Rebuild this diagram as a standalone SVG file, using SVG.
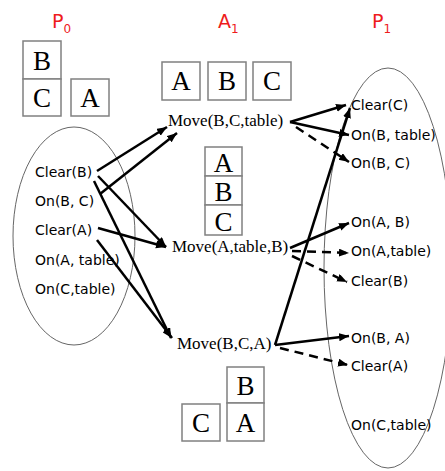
<svg xmlns="http://www.w3.org/2000/svg" width="445" height="471" viewBox="0 0 445 471">
<style>
.lbl{font-family:"DejaVu Sans",sans-serif;font-size:19px;fill:#ee1c1c}
.sub{font-size:12px}
.box{fill:#fff;stroke:#808080;stroke-width:1.5}
.blk{font-family:"Liberation Serif",serif;font-size:27px;fill:#000;text-anchor:middle}
.prop{font-family:"DejaVu Sans",sans-serif;font-size:14px;fill:#000}
.act{font-family:"Liberation Serif",serif;font-size:17px;fill:#000}
.ell{fill:none;stroke:#666;stroke-width:1}
.e{fill:none;stroke:#000;stroke-width:2.5}
.d{stroke-dasharray:9 6}
</style>
<defs>
<marker id="ah" markerUnits="userSpaceOnUse" markerWidth="11" markerHeight="9" refX="10" refY="4" orient="auto">
<path d="M0,0 L10,4 L0,8 z" fill="#000"/>
</marker>
</defs>
<rect width="445" height="471" fill="#fff"/>

<g id="labels">
<text class="lbl" x="52" y="28">P<tspan class="sub" dy="5">0</tspan></text>
<text class="lbl" x="218" y="28">A<tspan class="sub" dy="5">1</tspan></text>
<text class="lbl" x="372" y="28">P<tspan class="sub" dy="5">1</tspan></text>
</g>

<g id="state-p0">
<rect class="box" x="23" y="41" width="38" height="38"/>
<rect class="box" x="23" y="79" width="38" height="37"/>
<rect class="box" x="71" y="79" width="38" height="37"/>
<text class="blk" x="42" y="70" font-size="28">B</text>
<text class="blk" x="42" y="107" font-size="28">C</text>
<text class="blk" x="90" y="107" font-size="28">A</text>
</g>

<g id="state-a1-top">
<rect class="box" x="162" y="62" width="38" height="38"/>
<rect class="box" x="208" y="62" width="38" height="38"/>
<rect class="box" x="253" y="62" width="38" height="38"/>
<text class="blk" x="181" y="90">A</text>
<text class="blk" x="227" y="90">B</text>
<text class="blk" x="272" y="90">C</text>
</g>

<g id="state-a1-mid">
<rect class="box" x="205" y="147" width="37" height="29"/>
<rect class="box" x="205" y="176" width="37" height="29"/>
<rect class="box" x="205" y="205" width="37" height="30"/>
<text class="blk" x="223.5" y="172" font-size="26">A</text>
<text class="blk" x="223.5" y="201" font-size="26">B</text>
<text class="blk" x="223.5" y="231" font-size="26">C</text>
</g>

<g id="state-a1-bottom">
<rect class="box" x="227" y="367" width="37" height="36"/>
<rect class="box" x="227" y="403" width="37" height="38"/>
<rect class="box" x="182" y="404" width="38" height="37"/>
<text class="blk" x="245.5" y="395">B</text>
<text class="blk" x="245.5" y="432">A</text>
<text class="blk" x="201" y="432">C</text>
</g>

<g id="p0-layer">
<ellipse class="ell" cx="74" cy="236" rx="61" ry="109"/>
<text class="prop" x="35" y="177">Clear(B)</text>
<text class="prop" x="35" y="206">On(B, C)</text>
<text class="prop" x="35" y="235">Clear(A)</text>
<text class="prop" x="35" y="265">On(A, table)</text>
<text class="prop" x="35" y="294">On(C,table)</text>
</g>

<g id="p1-layer">
<ellipse class="ell" cx="388" cy="268" rx="64" ry="200"/>
<text class="prop" x="351" y="110">Clear(C)</text>
<text class="prop" x="351" y="140">On(B, table)</text>
<text class="prop" x="351" y="168">On(B, C)</text>
<text class="prop" x="351" y="227">On(A, B)</text>
<text class="prop" x="351" y="256">On(A,table)</text>
<text class="prop" x="351" y="286">Clear(B)</text>
<text class="prop" x="351" y="343">On(B, A)</text>
<text class="prop" x="351" y="371">Clear(A)</text>
<text class="prop" x="351" y="430">On(C,table)</text>
</g>

<g id="action-move-bc-table"><text class="act" x="168" y="126">Move(B,C,table)</text></g>
<g id="action-move-a-table-b"><text class="act" x="172" y="252">Move(A,table,B)</text></g>
<g id="action-move-bca"><text class="act" x="177" y="349">Move(B,C,A)</text></g>

<g id="connectors">
<line class="e" x1="97" y1="171" x2="167" y2="127" marker-end="url(#ah)"/>
<line class="e" x1="100" y1="194" x2="177" y2="133" marker-end="url(#ah)"/>
<line class="e" x1="98" y1="176" x2="166" y2="247" marker-end="url(#ah)"/>
<line class="e" x1="98" y1="228" x2="166" y2="247" marker-end="url(#ah)"/>
<line class="e" x1="94" y1="181" x2="171" y2="338" marker-end="url(#ah)"/>
<line class="e" x1="97" y1="240" x2="172" y2="338" marker-end="url(#ah)"/>

<line class="e" x1="290" y1="122" x2="346" y2="105" marker-end="url(#ah)"/>
<line class="e" x1="290" y1="122" x2="349" y2="135" marker-end="url(#ah)"/>
<line class="e d" x1="296" y1="127" x2="349" y2="162" marker-end="url(#ah)"/>

<line class="e" x1="290" y1="248" x2="349" y2="223" marker-end="url(#ah)"/>
<line class="e d" x1="292" y1="251" x2="349" y2="253" marker-end="url(#ah)"/>
<line class="e d" x1="292" y1="256" x2="347" y2="282" marker-end="url(#ah)"/>

<line class="e" x1="275" y1="345" x2="350" y2="108" marker-end="url(#ah)"/>
<line class="e" x1="275" y1="345" x2="349" y2="336" marker-end="url(#ah)"/>
<line class="e d" x1="280" y1="348" x2="348" y2="365" marker-end="url(#ah)"/>
</g>
</svg>
